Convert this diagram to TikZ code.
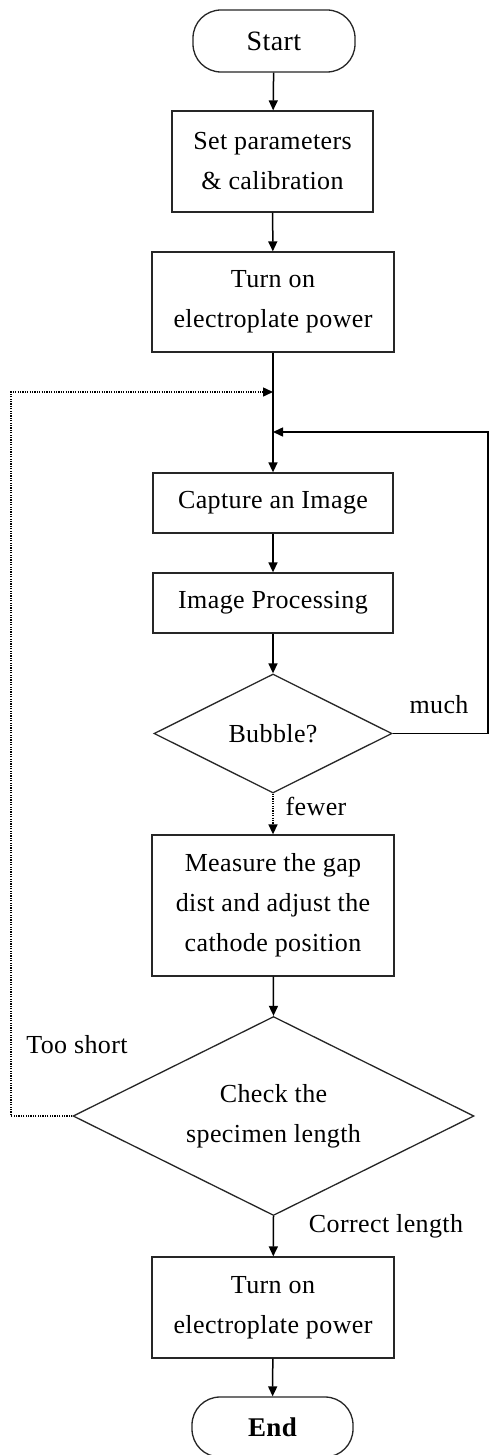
\documentclass[tikz,border=0pt]{standalone}
\usepackage{fontspec}
\setmainfont{Liberation Serif}[LetterSpace=1.5]
\usetikzlibrary{shapes.geometric,arrows.meta}
\begin{document}
\begin{tikzpicture}[x=1pt,y=-1pt,
  every node/.style={font=\fontsize{26}{40}\selectfont},
  box/.style={draw=black!85,line width=1.3pt,rectangle,align=center,inner sep=0pt},
  term/.style={draw=black!85,line width=1.3pt,rectangle,rounded corners=28pt,inner sep=0pt},
  decision/.style={draw=black!85,line width=1.3pt,diamond,aspect=2,align=center,inner sep=0pt},
  flow/.style={line width=1.5pt,-{Triangle[length=10pt,width=9pt]}},
  dotflow/.style={flow,dash pattern=on 1.2pt off 1.2pt},
  lbl/.style={inner sep=0pt}]
\useasboundingbox (0,0) rectangle (489,1455);
\fill[white] (0,0) rectangle (489,1455);

\node[term,minimum width=162pt,minimum height=62pt,font=\fontsize{28}{40}\selectfont] (start) at (274,41) {Start};
\node[box,minimum width=201pt,minimum height=101pt] (set) at (272.5,161.5) {Set parameters\\\& calibration};
\node[box,minimum width=242pt,minimum height=100pt] (pow1) at (273,302) {Turn on\\electroplate power};
\node[box,minimum width=240pt,minimum height=60pt] (cap) at (273,503) {Capture an Image};
\node[box,minimum width=240pt,minimum height=60pt] (proc) at (273,603) {Image Processing};
\node[decision,minimum width=238pt,minimum height=119pt] (bub) at (273,733.5) {Bubble?};
\node[box,minimum width=242pt,minimum height=141pt] (meas) at (273,905.5) {Measure the gap\\dist and adjust the\\cathode position};
\node[decision,minimum width=401pt,minimum height=199pt] (chk) at (273.5,1116) {Check the\\specimen length};
\node[box,minimum width=242pt,minimum height=101pt] (pow2) at (273,1307.5) {Turn on\\electroplate power};
\node[term,minimum width=161pt,minimum height=60pt,font=\fontsize{27}{40}\selectfont\bfseries] (end) at (272.5,1427) {End};

\coordinate (j1) at (273,392);
\coordinate (j2) at (273,432);
\coordinate (r1) at (488,733.5);
\coordinate (r2) at (488,432);
\coordinate (l1) at (11,1116);
\coordinate (l2) at (11,392);

\draw[flow] (start) -- (set);
\draw[flow] (set) -- (pow1);
\draw[flow] (pow1) -- (cap);
\draw[flow] (cap) -- (proc);
\draw[flow] (proc) -- (bub);
\draw[dotflow] (bub.south) -- (meas);
\draw[flow] (meas) -- (chk.north);
\draw[flow] (chk.south) -- (pow2);
\draw[flow] (pow2) -- (end);

\draw[flow] (bub.east) -- (r1) -- (r2) -- (j2);
\draw[dotflow] (chk.west) -- (l1) -- (l2) -- (j1);

\node[lbl] (much) at (439,705) {much};
\node[lbl] (fewer) at (316,806) {fewer};
\node[lbl] (short) at (77,1045) {Too short};
\node[lbl] (corr) at (386,1226) {Correct length};
\end{tikzpicture}
\end{document}
